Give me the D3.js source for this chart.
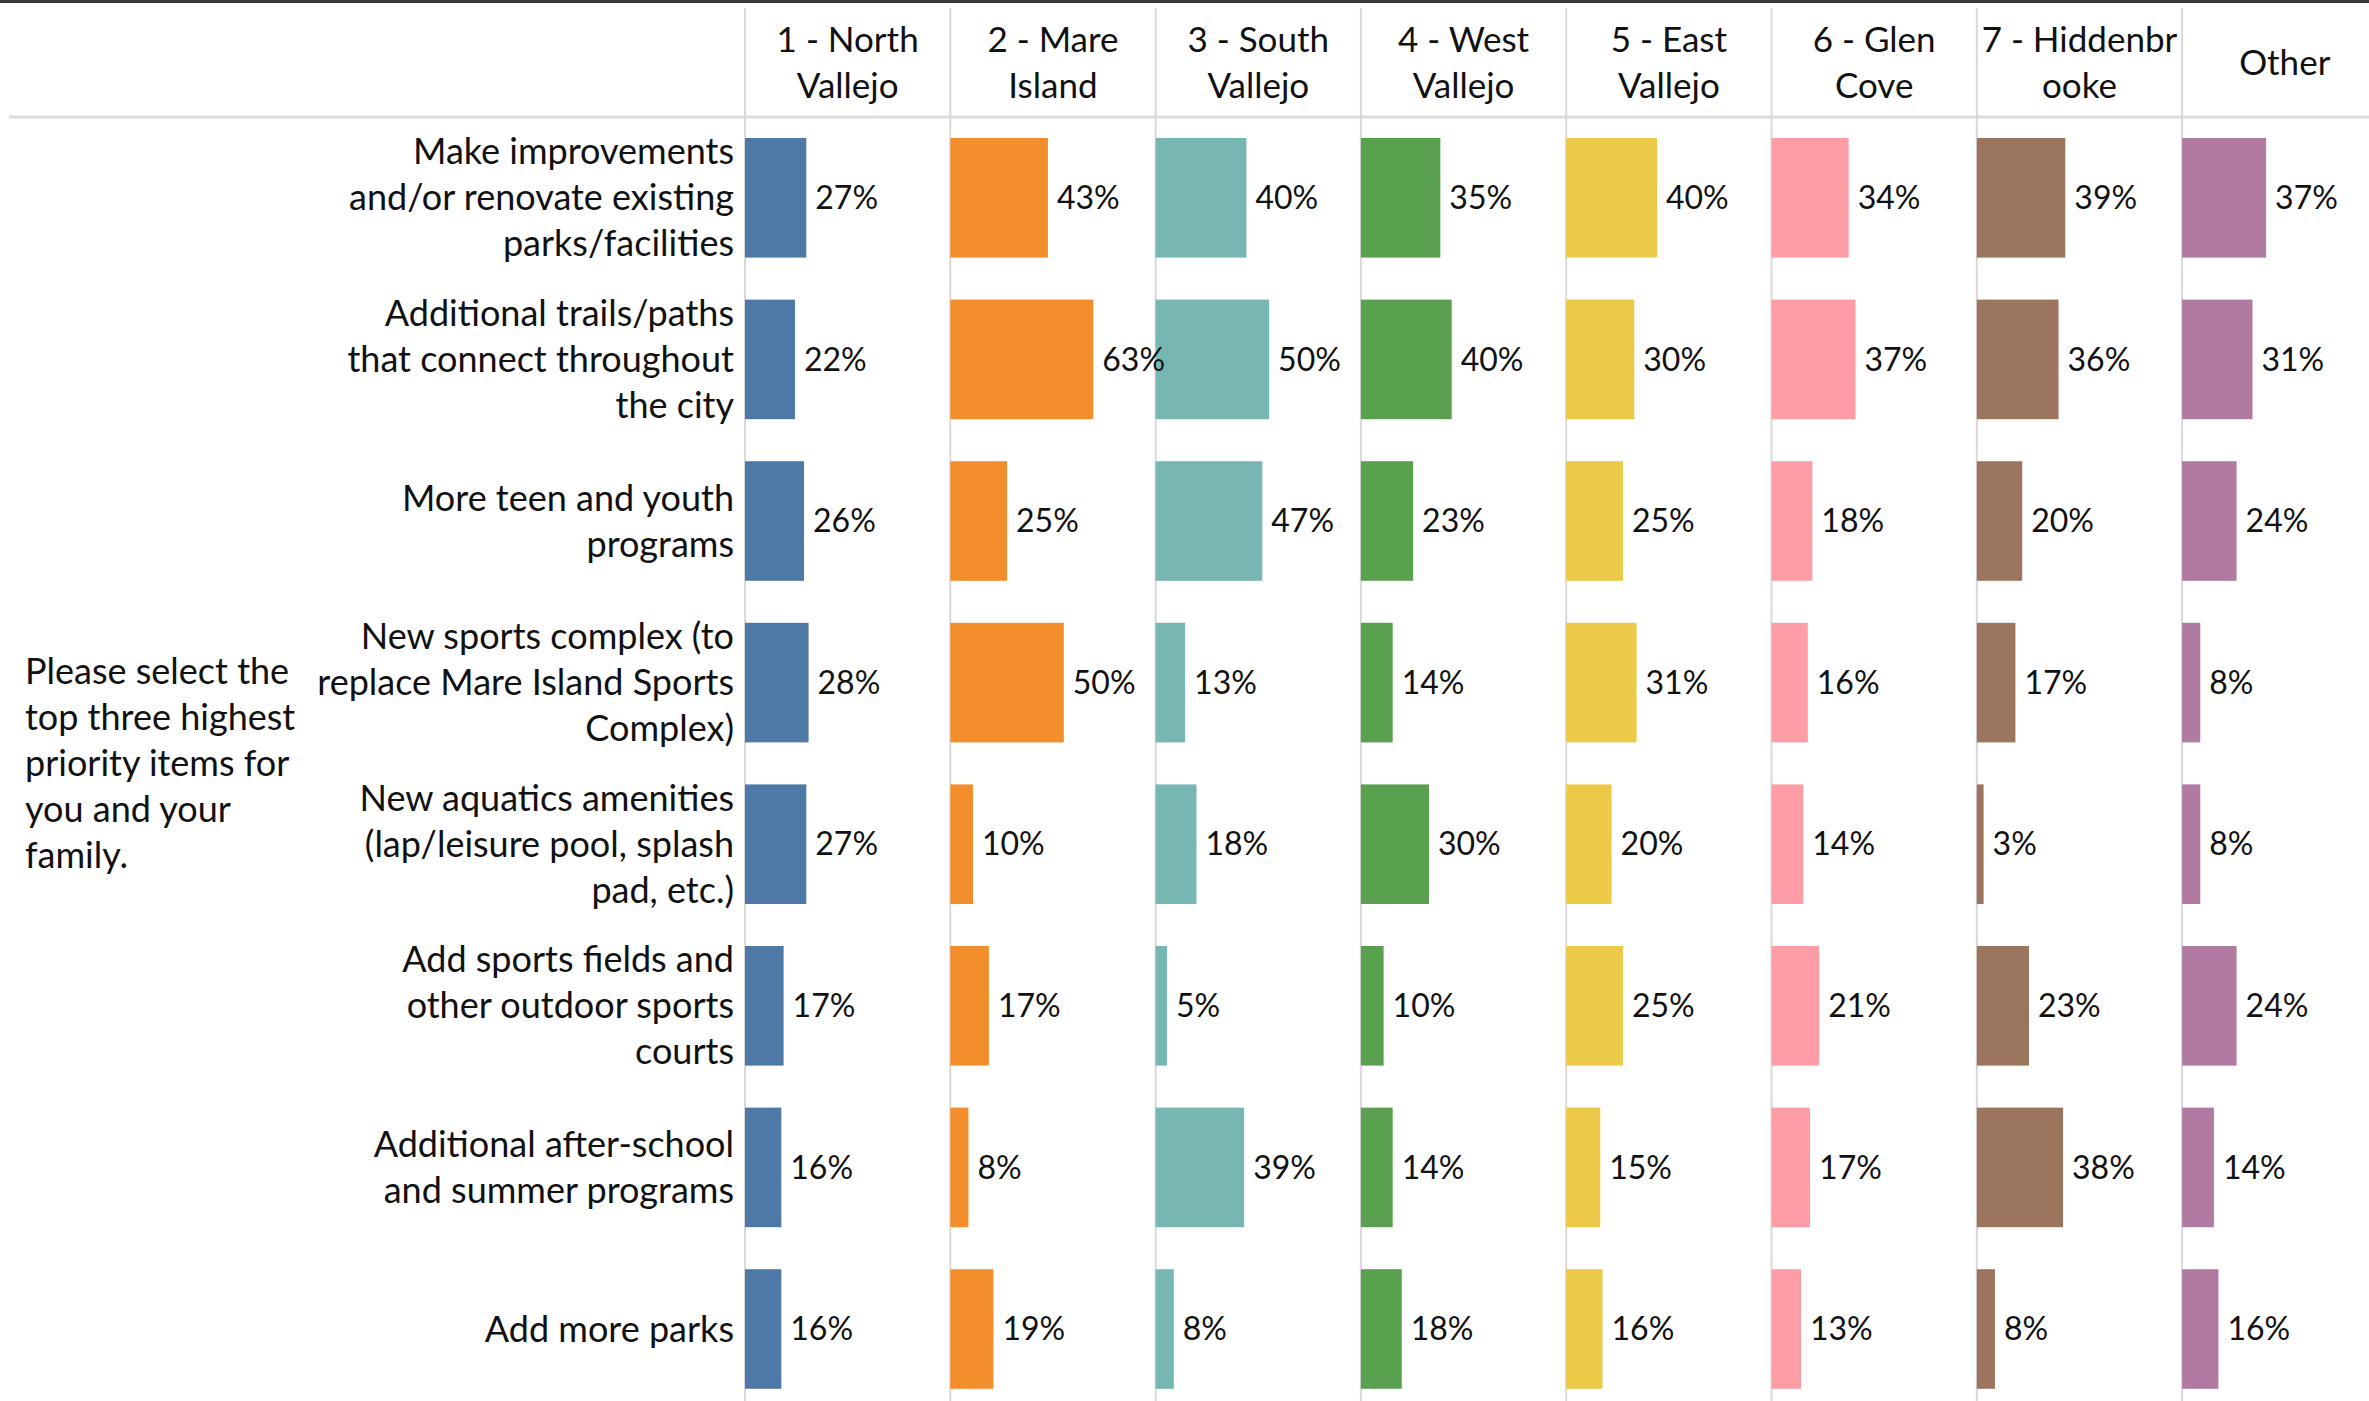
<!DOCTYPE html>
<html>
<head>
<meta charset="utf-8">
<script src="https://cdn.jsdelivr.net/npm/d3@7"></script>
<style>
  body { margin: 0; background: #fff; }
  text { font-family: Lato, "Open Sans", sans-serif; fill: #111; }
</style>
</head>
<body>
<div id="chart"></div>
<script>
// data
var regions = ["1 - North Vallejo", "2 - Mare Island", "3 - South Vallejo", "4 - West Vallejo",
               "5 - East Vallejo", "6 - Glen Cove", "7 - Hiddenbrooke", "Other"];
var regionLines = [["1 - North", "Vallejo"], ["2 - Mare", "Island"], ["3 - South", "Vallejo"],
                   ["4 - West", "Vallejo"], ["5 - East", "Vallejo"], ["6 - Glen", "Cove"],
                   ["7 - Hiddenbr", "ooke"], ["Other"]];
var items = ["improve", "trails", "teen", "complex", "aquatics", "fields", "afterschool", "parks"];
var itemLines = [
  ["Make improvements", "and/or renovate existing", "parks/facilities"],
  ["Additional trails/paths", "that connect throughout", "the city"],
  ["More teen and youth", "programs"],
  ["New sports complex (to", "replace Mare Island Sports", "Complex)"],
  ["New aquatics amenities", "(lap/leisure pool, splash", "pad, etc.)"],
  ["Add sports fields and", "other outdoor sports", "courts"],
  ["Additional after-school", "and summer programs"],
  ["Add more parks"]
];
var questionLines = ["Please select the", "top three highest", "priority items for", "you and your", "family."];

// percent per item (rows) for each region (columns)
var improve     = [27, 43, 40, 35, 40, 34, 39, 37];
var trails      = [22, 63, 50, 40, 30, 37, 36, 31];
var teen        = [26, 25, 47, 23, 25, 18, 20, 24];
var complex     = [28, 50, 13, 14, 31, 16, 17, 8];
var aquatics    = [27, 10, 18, 30, 20, 14, 3, 8];
var fields      = [17, 17, 5, 10, 25, 21, 23, 24];
var afterschool = [16, 8, 39, 14, 15, 17, 38, 14];
var parks       = [16, 19, 8, 18, 16, 13, 8, 16];
var values = [improve, trails, teen, complex, aquatics, fields, afterschool, parks];

var colors = ["#4e79a7", "#f28e2b", "#76b7b2", "#59a14f", "#edc948", "#ff9da7", "#9c755f", "#b07aa1"];

var width = 2369, height = 1401;
var headerH = 117;
var labelSize = 36, headSize = 35, valueSize = 32;
var lineH = 46;

var svg = d3.select("#chart").append("svg")
    .attr("width", width)
    .attr("height", height);

// column and row bands
var x = d3.scaleBand().domain(regions).range([745, 745 + 8 * 205.3]);
var y = d3.scaleBand().domain(items).range([headerH, headerH + 8 * 161.6])
    .paddingInner(0.26).paddingOuter(0.13);
var w = d3.scaleLinear().domain([0, 100]).range([0, 227]);
var color = d3.scaleOrdinal().domain(regions).range(colors);

// grid lines
svg.append("rect").attr("x", 0).attr("y", 0).attr("width", width).attr("height", 3).attr("fill", "#3a3a3a");
svg.append("line")
    .attr("x1", 9).attr("x2", width)
    .attr("y1", headerH).attr("y2", headerH)
    .attr("stroke", "#dcdcdc").attr("stroke-width", 3);
svg.selectAll("line.col")
    .data(regions)
    .enter().append("line")
    .attr("class", "col")
    .attr("x1", function(d) { return x(d); })
    .attr("x2", function(d) { return x(d); })
    .attr("y1", 8).attr("y2", height)
    .attr("stroke", "#d9d9d9").attr("stroke-width", 2);

// header labels
var head = svg.selectAll("text.head")
    .data(regions)
    .enter().append("text")
    .attr("class", "head")
    .attr("text-anchor", "middle")
    .attr("font-size", headSize)
    .attr("transform", function(d) { return "translate(" + (x(d) + x.bandwidth() / 2) + "," + (headerH / 2 + 4) + ")"; });
head.selectAll("tspan")
    .data(function(d, i) { return regionLines[i].map(function(s, j, a) { return {s: s, j: j, n: a.length}; }); })
    .enter().append("tspan")
    .attr("x", 0)
    .attr("y", function(d) { return (d.j - (d.n - 1) / 2) * lineH; })
    .attr("dy", "0.35em")
    .text(function(d) { return d.s; });

// question text on the left
var q = svg.append("text")
    .attr("font-size", labelSize)
    .attr("transform", "translate(25," + (y.range()[0] + y.range()[1]) / 2 + ")");
q.selectAll("tspan")
    .data(questionLines)
    .enter().append("tspan")
    .attr("x", 0)
    .attr("y", function(d, i) { return (i - (questionLines.length - 1) / 2) * lineH; })
    .attr("dy", "0.35em")
    .text(function(d) { return d; });

// row labels
var rowLab = svg.selectAll("text.row")
    .data(items)
    .enter().append("text")
    .attr("class", "row")
    .attr("text-anchor", "end")
    .attr("font-size", labelSize)
    .attr("transform", function(d) { return "translate(734," + (y(d) + y.bandwidth() / 2) + ")"; });
rowLab.selectAll("tspan")
    .data(function(d, i) { return itemLines[i].map(function(s, j, a) { return {s: s, j: j, n: a.length}; }); })
    .enter().append("tspan")
    .attr("x", 0)
    .attr("y", function(d) { return (d.j - (d.n - 1) / 2) * lineH; })
    .attr("dy", "0.35em")
    .text(function(d) { return d.s; });

// bars and value labels
var cells = [];
items.forEach(function(it, r) {
  regions.forEach(function(rg, c) {
    cells.push({item: it, region: rg, value: values[r][c]});
  });
});

svg.selectAll("rect.bar")
    .data(cells)
    .enter().append("rect")
    .attr("class", "bar")
    .attr("x", function(d) { return x(d.region); })
    .attr("y", function(d) { return y(d.item); })
    .attr("width", function(d) { return w(d.value); })
    .attr("height", y.bandwidth())
    .attr("fill", function(d) { return color(d.region); });

svg.selectAll("text.val")
    .data(cells)
    .enter().append("text")
    .attr("class", "val")
    .attr("font-size", valueSize)
    .attr("x", function(d) { return x(d.region) + w(d.value) + 9; })
    .attr("y", function(d) { return y(d.item) + y.bandwidth() / 2; })
    .attr("dy", "0.35em")
    .text(function(d) { return d.value + "%"; });
</script>
</body>
</html>
